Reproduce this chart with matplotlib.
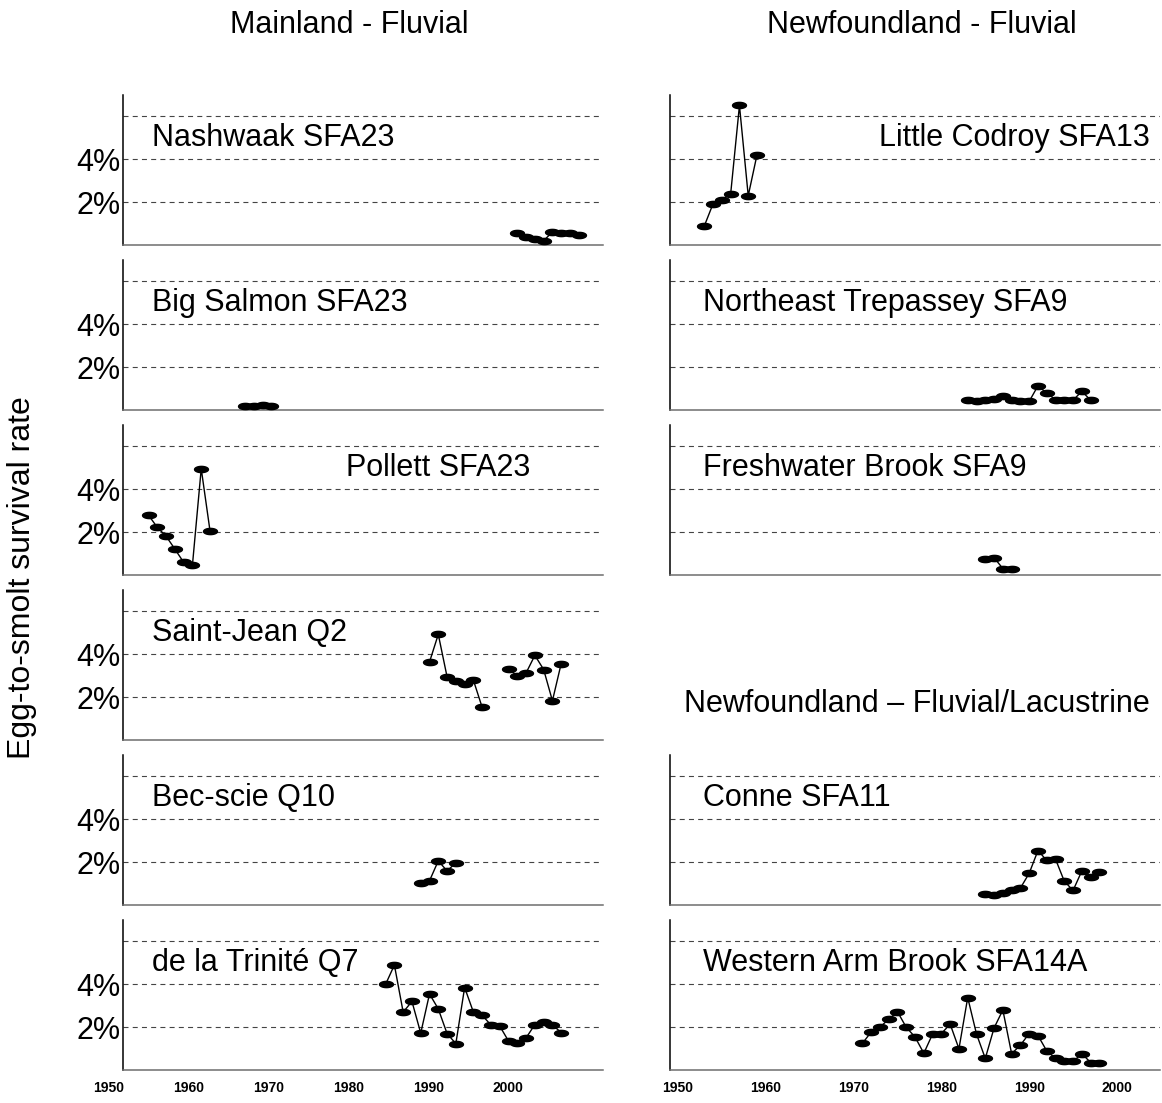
import numpy as np
import matplotlib
matplotlib.use("Agg")
import matplotlib.pyplot as plt
from matplotlib.path import Path

plt.rcParams['font.family'] = ['Liberation Sans', 'DejaVu Sans']

# ---- data: egg-to-smolt survival (%) by smolt year ----
nashwaak_years = list(range(1994, 2002))
nashwaak_vals = [0.57, 0.38, 0.26, 0.20, 0.61, 0.54, 0.57, 0.49]

big_salmon_years = list(range(1963, 1967))
big_salmon_vals = [0.19, 0.20, 0.25, 0.20]

pollett_years = list(range(1952, 1960))
pollett_vals = [2.79, 2.22, 1.81, 1.21, 0.59, 0.47, 4.96, 2.06]

saint_jean_years = list(range(1984, 2000))
saint_jean_vals = [3.64, 4.93, 2.95, 2.76, 2.60, 2.79, 1.52,
                   np.nan, np.nan,
                   3.33, 2.99, 3.13, 3.95, 3.29, 1.83, 3.57]

bec_scie_years = list(range(1983, 1988))
bec_scie_vals = [1.04, 1.13, 2.06, 1.59, 1.97]

trinite_years = list(range(1979, 2000))
trinite_vals = [4.00, 4.90, 2.70, 3.20, 1.72, 3.55, 2.85, 1.70, 1.23, 3.85,
                2.70, 2.55, 2.10, 2.05, 1.35, 1.25, 1.50, 2.12, 2.25, 2.10, 1.75]

codroy_years = list(range(1953, 1960))
codroy_vals = [0.89, 1.93, 2.12, 2.39, 6.51, 2.30, 4.21]

trepassey_years = list(range(1983, 1998))
trepassey_vals = [0.49, 0.41, 0.49, 0.52, 0.64, 0.49, 0.40, 0.40, 1.13, 0.79,
                  0.49, 0.49, 0.46, 0.87, 0.46]

freshwater_years = list(range(1985, 1989))
freshwater_vals = [0.73, 0.81, 0.30, 0.30]

conne_years = list(range(1985, 1999))
conne_vals = [0.53, 0.45, 0.56, 0.71, 0.79, 1.48, 2.54, 2.08, 2.14, 1.11,
              0.68, 1.59, 1.29, 1.56]

wab_years = list(range(1971, 1999))
wab_vals = [1.24, 1.77, 2.00, 2.37, 2.72, 1.99, 1.54, 0.78, 1.68, 1.70,
            2.14, 0.99, 3.38, 1.68, 0.54, 1.96, 2.80, 0.76, 1.16, 1.70,
            1.61, 0.89, 0.54, 0.43, 0.40, 0.76, 0.35, 0.35]

grid_levels = [2, 4, 6]
ytick_levels = [2, 4]
ytick_labels = ['2%', '4%']
decade_ticks = [1950, 1960, 1970, 1980, 1990, 2000]

# ---- layout (pixel geometry of the panel grid) ----
W, H = 1162, 1103
fig = plt.figure(figsize=(W / 100, H / 100), dpi=100)

col_x = {'L': (123, 603), 'R': (670, 1160)}
col_xlim = {'L': (1949.09, 2003.76), 'R': (1949.09, 2004.9)}
row_y = [(95, 245), (260, 410), (425, 575), (590, 740), (755, 905), (920, 1070)]

# year-axis strip printed under the mainland column
mainland_tick_span = (100, 603)
mainland_tick_lim = (1948.87, 2011.9)

theta = np.linspace(0, 2 * np.pi, 64)
ellipse = Path(np.column_stack([np.cos(theta), 0.45 * np.sin(theta)]), closed=True)

panels = [
    ('L', 0, 'Nashwaak SFA23', nashwaak_years, nashwaak_vals, 'left'),
    ('L', 1, 'Big Salmon SFA23', big_salmon_years, big_salmon_vals, 'left'),
    ('L', 2, 'Pollett SFA23', pollett_years, pollett_vals, 'pollett'),
    ('L', 3, 'Saint-Jean Q2', saint_jean_years, saint_jean_vals, 'left'),
    ('L', 4, 'Bec-scie Q10', bec_scie_years, bec_scie_vals, 'left'),
    ('L', 5, 'de la Trinité Q7', trinite_years, trinite_vals, 'left'),
    ('R', 0, 'Little Codroy SFA13', codroy_years, codroy_vals, 'right'),
    ('R', 1, 'Northeast Trepassey SFA9', trepassey_years, trepassey_vals, 'left'),
    ('R', 2, 'Freshwater Brook SFA9', freshwater_years, freshwater_vals, 'left'),
    ('R', 4, 'Conne SFA11', conne_years, conne_vals, 'left'),
    ('R', 5, 'Western Arm Brook SFA14A', wab_years, wab_vals, 'left'),
]

FS = 22
TICK_FS = 10


def style_year_ticks(ax):
    ax.set_xticks(decade_ticks)
    ax.set_xticklabels([str(t) for t in decade_ticks], fontsize=TICK_FS,
                       fontweight='bold')
    ax.tick_params(axis='x', length=0, pad=8)


for col, row, name, yrs, vals, place in panels:
    x0, x1 = col_x[col]
    y0, y1 = row_y[row]
    ax = fig.add_axes([x0 / W, 1 - y1 / H, (x1 - x0) / W, (y1 - y0) / H])
    ax.set_xlim(*col_xlim[col])
    ax.set_ylim(0, 7)
    for g in grid_levels:
        ax.axhline(g, color='#444444', lw=0.8, dashes=(4.5, 3.8), zorder=1)
    ax.plot(yrs, vals, color='black', lw=1.0, zorder=2)
    ax.plot(yrs, vals, ls='none', marker=ellipse, ms=10, color='black', zorder=3)

    for s in ('top', 'right'):
        ax.spines[s].set_visible(False)
    ax.spines['left'].set_color('black')
    ax.spines['left'].set_linewidth(1.1)
    ax.spines['bottom'].set_color('#6e6e6e')
    ax.spines['bottom'].set_linewidth(1.1)

    ax.tick_params(length=0)
    if col == 'L':
        ax.set_yticks(ytick_levels)
        ax.set_yticklabels(ytick_labels, fontsize=FS)
        ax.tick_params(axis='y', pad=2)
    else:
        ax.set_yticks([])
    if row == 5 and col == 'R':
        style_year_ticks(ax)
    else:
        ax.set_xticks([])

    if place == 'left':
        ax.text(29 / (x1 - x0) if col == 'L' else 33 / (x1 - x0), 5.0, name,
                transform=ax.get_yaxis_transform(), fontsize=FS,
                ha='left', va='center')
    elif place == 'right':
        ax.text(0.98, 5.0, name, transform=ax.get_yaxis_transform(),
                fontsize=FS, ha='right', va='center')
    else:
        ax.text(0.465, 5.0, name, transform=ax.get_yaxis_transform(),
                fontsize=FS, ha='left', va='center')

# year labels for the mainland column
tx0, tx1 = mainland_tick_span
yb = row_y[5][1]
tax = fig.add_axes([tx0 / W, 1 - yb / H, (tx1 - tx0) / W, 1 / H])
tax.set_xlim(*mainland_tick_lim)
tax.patch.set_visible(False)
for s in tax.spines.values():
    s.set_visible(False)
tax.set_yticks([])
style_year_ticks(tax)

fig.text(349 / W, 1 - 25 / H, 'Mainland - Fluvial', fontsize=FS,
         ha='center', va='center')
fig.text(922 / W, 1 - 25 / H, 'Newfoundland - Fluvial', fontsize=FS,
         ha='center', va='center')
fig.text(917 / W, 1 - 704 / H, 'Newfoundland \u2013 Fluvial/Lacustrine',
         fontsize=FS, ha='center', va='center')
fig.text(22 / W, 1 - 578 / H, 'Egg-to-smolt survival rate', fontsize=23,
         rotation=90, ha='center', va='center')

fig.savefig('out.png', dpi=100)
